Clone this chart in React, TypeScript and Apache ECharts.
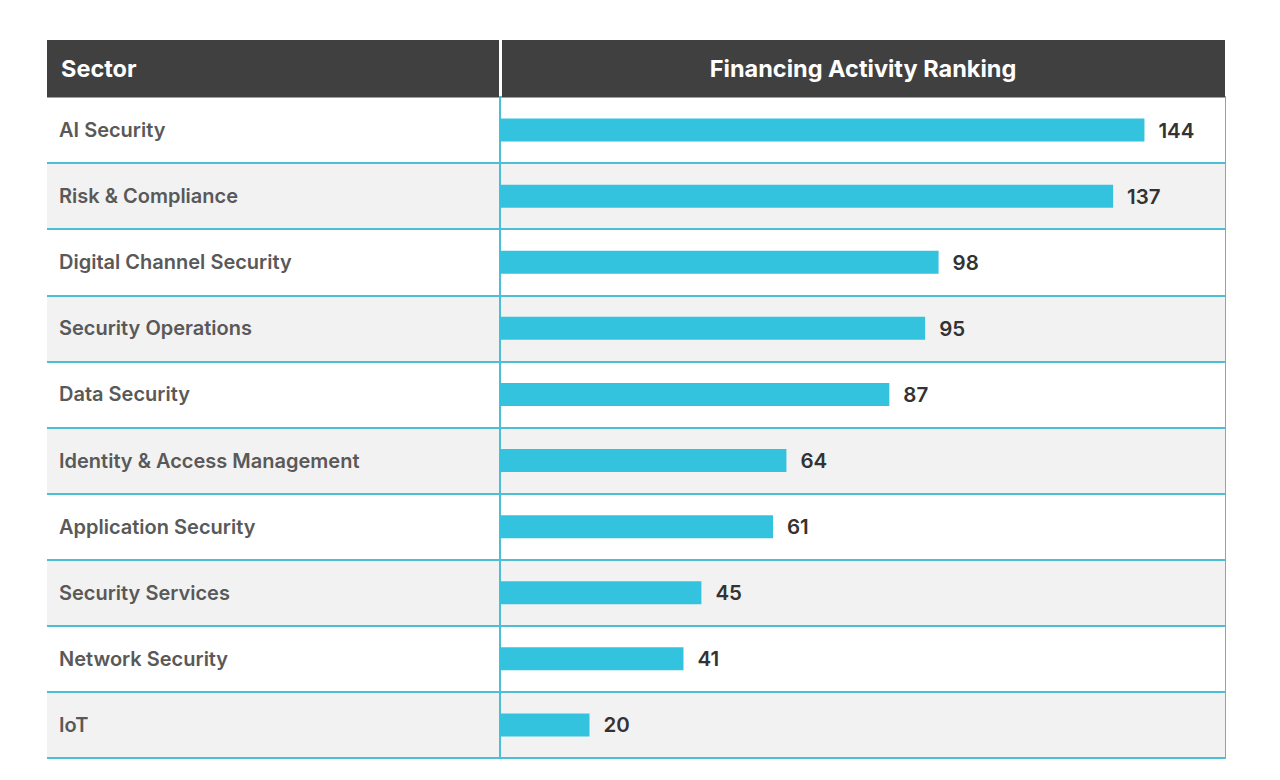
import React, { useEffect, useRef } from "react";
import * as echarts from "echarts";

const sectors = [
  "AI Security",
  "Risk & Compliance",
  "Digital Channel Security",
  "Security Operations",
  "Data Security",
  "Identity & Access Management",
  "Application Security",
  "Security Services",
  "Network Security",
  "IoT",
];
const rankingValues = [144, 137, 98, 95, 87, 64, 61, 45, 41, 20];
const headerLeft = "Sector";
const headerRight = "Financing Activity Ranking";

const FONT = "Inter, 'Open Sans', sans-serif";
const CYAN_LINE = "#4cbfd6";
const BAR = "#33c3de";

export default function App() {
  const ref = useRef<HTMLDivElement>(null);
  useEffect(() => {
    document.body.style.margin = "0";
    const chart = echarts.init(ref.current!, null, { renderer: "svg" });
    const catAxisCommon = {
      type: "category",
      data: sectors,
      inverse: true,
      axisTick: { show: false },
      splitLine: { show: true, lineStyle: { color: CYAN_LINE, width: 2 } },
      splitArea: { show: true, areaStyle: { color: ["#ffffff", "#f2f2f2"] } },
    };
    chart.setOption({
      animation: false,
      backgroundColor: "#ffffff",
      grid: [
        { left: 47, width: 453, top: 97, height: 661 },
        {
          left: 500,
          width: 725,
          top: 97,
          height: 661,
          show: true,
          borderColor: CYAN_LINE,
          borderWidth: 2,
          backgroundColor: "transparent",
        },
      ],
      xAxis: [
        { type: "value", gridIndex: 0, show: false, min: 0, max: 1 },
        { type: "value", gridIndex: 1, show: false, min: 0, max: 162 },
      ],
      yAxis: [
        {
          ...catAxisCommon,
          gridIndex: 0,
          axisLine: { show: false },
          axisLabel: { show: false },
        },
        {
          ...catAxisCommon,
          gridIndex: 1,
          axisLine: { show: true, lineStyle: { color: CYAN_LINE, width: 2 } },
          axisLabel: {
            show: true,
            align: "left",
            margin: 441,
            color: "#595959",
            fontSize: 20,
            fontWeight: 600,
            fontFamily: FONT,
          },
        },
      ],
      series: [
        {
          type: "bar",
          xAxisIndex: 1,
          yAxisIndex: 1,
          data: rankingValues,
          barWidth: 23,
          itemStyle: { color: BAR },
          label: {
            show: true,
            position: "right",
            distance: 14,
            color: "#333333",
            fontSize: 20.5,
            fontWeight: 600,
            fontFamily: FONT,
          },
        },
      ],
      graphic: [
        {
          type: "rect",
          z: 100,
          shape: { x: 47, y: 40, width: 452, height: 57 },
          style: { fill: "#404040" },
        },
        {
          type: "rect",
          z: 100,
          shape: { x: 502, y: 40, width: 723, height: 57 },
          style: { fill: "#404040" },
        },
        {
          type: "text",
          z: 101,
          x: 61,
          y: 68,
          style: {
            text: headerLeft,
            fill: "#ffffff",
            fontSize: 23.5,
            fontWeight: "bold",
            fontFamily: FONT,
            verticalAlign: "middle",
          },
        },
        {
          type: "text",
          z: 101,
          x: 863,
          y: 68,
          style: {
            text: headerRight,
            fill: "#ffffff",
            fontSize: 23.5,
            fontWeight: "bold",
            fontFamily: FONT,
            align: "center",
            verticalAlign: "middle",
          },
        },
      ],
    });
    return () => chart.dispose();
  }, []);
  return <div ref={ref} style={{ width: 1280, height: 780 }} />;
}
